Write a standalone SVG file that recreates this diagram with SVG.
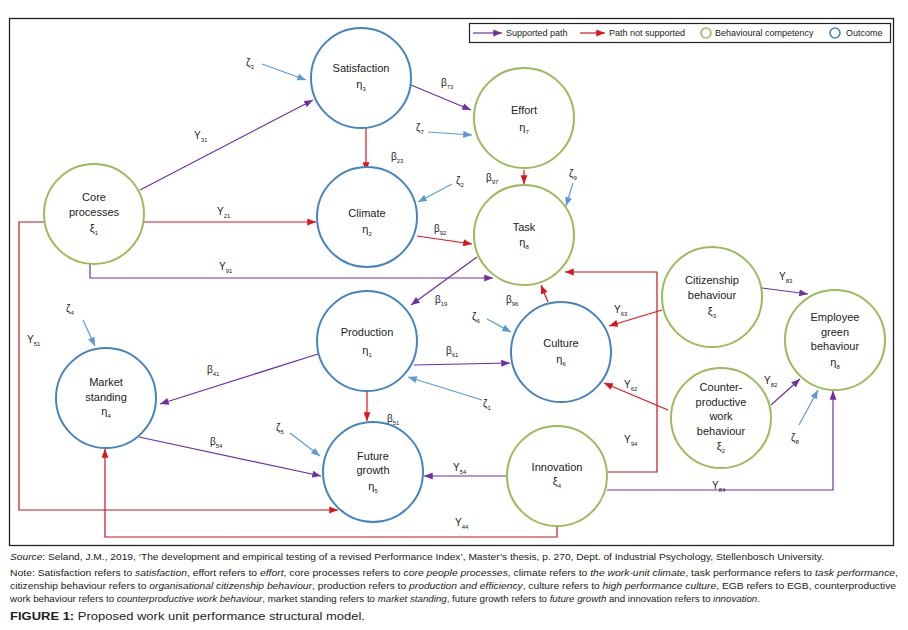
<svg xmlns="http://www.w3.org/2000/svg" width="908" height="630" viewBox="0 0 908 630">
<defs>
<style>
text{font-family:"Liberation Sans",Arial,sans-serif;fill:#222}
.nt{font-size:11px;text-anchor:middle}
.lb{font-size:10px}
.s{font-size:6px}
.cap{font-size:9px}
.nb{fill:#fff;stroke:#4584c0;stroke-width:2}
.ng{fill:#fff;stroke:#9bbb59;stroke-width:2}
.p{fill:none;stroke:#7030a0;stroke-width:1.2;marker-end:url(#ap)}
.r{fill:none;stroke:#e0141c;stroke-width:1.2;marker-end:url(#ar)}
.rd{fill:none;stroke:#c4161e;stroke-width:1.2;marker-end:url(#ar)}
.z{fill:none;stroke:#5b9bd5;stroke-width:1.2;marker-end:url(#az)}
</style>
<marker id="ap" viewBox="0 0 10 8" refX="10" refY="4" markerWidth="9" markerHeight="7" markerUnits="userSpaceOnUse" orient="auto"><path d="M0,0 L10,4 L0,8 z" fill="#7030a0"/></marker>
<marker id="ar" viewBox="0 0 10 8" refX="10" refY="4" markerWidth="9" markerHeight="7" markerUnits="userSpaceOnUse" orient="auto"><path d="M0,0 L10,4 L0,8 z" fill="#e0141c"/></marker>
<marker id="az" viewBox="0 0 10 8" refX="10" refY="4" markerWidth="9" markerHeight="7" markerUnits="userSpaceOnUse" orient="auto"><path d="M0,0 L10,4 L0,8 z" fill="#5b9bd5"/></marker>
</defs>
<rect x="0" y="0" width="908" height="630" fill="#fff"/>
<rect x="9.5" y="18.5" width="884" height="527" fill="none" stroke="#222" stroke-width="1.3"/>

<g id="legend">
<rect x="469.5" y="23.5" width="421" height="19" fill="#fff" stroke="#222" stroke-width="1.2"/>
<path d="M473,33 L502,33" class="p"/>
<text x="506" y="36" class="cap">Supported path</text>
<path d="M580,33 L605,33" class="r"/>
<text x="609" y="36" class="cap">Path not supported</text>
<circle cx="706" cy="33" r="5" fill="#fff" stroke="#9bbb59" stroke-width="1.6"/>
<text x="715" y="36" class="cap">Behavioural competency</text>
<circle cx="835" cy="33" r="5" fill="#fff" stroke="#4584c0" stroke-width="1.6"/>
<text x="846" y="36" class="cap">Outcome</text>
</g>

<g id="connectors">
<path d="M262,64 L306,80" class="z"/>
<path d="M140,190 L313,100" class="p"/>
<path d="M411,85 L471,110" class="p"/>
<path d="M428,132 L472,135" class="z"/>
<path d="M366,128 L366,171" class="r"/>
<path d="M452,184 L418,202" class="z"/>
<path d="M524,170 L524,184" class="r"/>
<path d="M573,183 L566,206" class="z"/>
<path d="M144,222 L316,222" class="r"/>
<path d="M417,236 L472,244" class="r"/>
<path d="M90,264 L90,278 L493,278" class="p"/>
<path d="M477,257 L411,305" class="p"/>
<path d="M548,302 L541,285" class="r"/>
<path d="M487,319 L511,332" class="z"/>
<path d="M608,472 L657,472 L657,272 L565,272" class="rd"/>
<path d="M662,310 L609,326" class="r"/>
<path d="M762,288 L808,294" class="p"/>
<path d="M668,410 L604,383" class="r"/>
<path d="M771,405 L800,379" class="p"/>
<path d="M799,425 L818,390" class="z"/>
<path d="M607,490 L833,490 L833,391" class="p"/>
<path d="M414,365 L510,363" class="p"/>
<path d="M482,400 L408,377" class="z"/>
<path d="M318,354 L160,404" class="p"/>
<path d="M367,391 L367,421" class="r"/>
<path d="M290,433 L320,456" class="z"/>
<path d="M139,437 L321,476" class="p"/>
<path d="M83,320 L95,346" class="z"/>
<path d="M44,222 L19,222 L19,510 L338,510" class="rd"/>
<path d="M507,476 L424,476" class="p"/>
<path d="M557,526 L557,537 L105,537 L105,449" class="rd"/>
</g>

<g id="edge-labels">
<text x="246" y="66" class="lb">ζ<tspan class="s" dy="3">3</tspan></text>
<text x="194" y="139" class="lb">Y<tspan class="s" dy="3">31</tspan></text>
<text x="441" y="86" class="lb">β<tspan class="s" dy="3">73</tspan></text>
<text x="416" y="131" class="lb">ζ<tspan class="s" dy="3">7</tspan></text>
<text x="391" y="160" class="lb">β<tspan class="s" dy="3">23</tspan></text>
<text x="456" y="184" class="lb">ζ<tspan class="s" dy="3">2</tspan></text>
<text x="486" y="181" class="lb">β<tspan class="s" dy="3">97</tspan></text>
<text x="569" y="177" class="lb">ζ<tspan class="s" dy="3">9</tspan></text>
<text x="217" y="215" class="lb">Y<tspan class="s" dy="3">21</tspan></text>
<text x="434" y="232" class="lb">β<tspan class="s" dy="3">92</tspan></text>
<text x="219" y="270" class="lb">Y<tspan class="s" dy="3">91</tspan></text>
<text x="435" y="303" class="lb">β<tspan class="s" dy="3">19</tspan></text>
<text x="506" y="303" class="lb">β<tspan class="s" dy="3">96</tspan></text>
<text x="472" y="320" class="lb">ζ<tspan class="s" dy="3">6</tspan></text>
<text x="614" y="313" class="lb">Y<tspan class="s" dy="3">63</tspan></text>
<text x="779" y="280" class="lb">Y<tspan class="s" dy="3">83</tspan></text>
<text x="624" y="388" class="lb">Y<tspan class="s" dy="3">62</tspan></text>
<text x="764" y="384" class="lb">Y<tspan class="s" dy="3">82</tspan></text>
<text x="791" y="441" class="lb">ζ<tspan class="s" dy="3">8</tspan></text>
<text x="624" y="443" class="lb">Y<tspan class="s" dy="3">94</tspan></text>
<text x="712" y="489" class="lb">Y<tspan class="s" dy="3">84</tspan></text>
<text x="446" y="354" class="lb">β<tspan class="s" dy="3">61</tspan></text>
<text x="483" y="407" class="lb">ζ<tspan class="s" dy="3">1</tspan></text>
<text x="207" y="373" class="lb">β<tspan class="s" dy="3">41</tspan></text>
<text x="387" y="422" class="lb">β<tspan class="s" dy="3">51</tspan></text>
<text x="276" y="431" class="lb">ζ<tspan class="s" dy="3">5</tspan></text>
<text x="210" y="445" class="lb">β<tspan class="s" dy="3">54</tspan></text>
<text x="66" y="312" class="lb">ζ<tspan class="s" dy="3">4</tspan></text>
<text x="27" y="343" class="lb">Y<tspan class="s" dy="3">51</tspan></text>
<text x="453" y="471" class="lb">Y<tspan class="s" dy="3">54</tspan></text>
<text x="455" y="526" class="lb">Y<tspan class="s" dy="3">44</tspan></text>
</g>

<g id="core-processes">
<circle cx="94" cy="214" r="50" class="ng"/>
<text x="94" y="201" class="nt">Core</text>
<text x="94" y="216" class="nt">processes</text>
<text x="94" y="232" class="nt">ξ<tspan class="s" dy="3">1</tspan></text>
</g>
<g id="satisfaction">
<circle cx="361" cy="78" r="50" class="nb"/>
<text x="361" y="72" class="nt">Satisfaction</text>
<text x="361" y="88" class="nt">η<tspan class="s" dy="3">3</tspan></text>
</g>
<g id="effort">
<circle cx="524" cy="118" r="50" class="ng"/>
<text x="524" y="114" class="nt">Effort</text>
<text x="524" y="131" class="nt">η<tspan class="s" dy="3">7</tspan></text>
</g>
<g id="climate">
<circle cx="367" cy="217" r="50" class="nb"/>
<text x="367" y="217" class="nt">Climate</text>
<text x="367" y="233" class="nt">η<tspan class="s" dy="3">2</tspan></text>
</g>
<g id="task">
<circle cx="524" cy="235" r="50" class="ng"/>
<text x="524" y="231" class="nt">Task</text>
<text x="524" y="246" class="nt">η<tspan class="s" dy="3">8</tspan></text>
</g>
<g id="production">
<circle cx="367" cy="341" r="50" class="nb"/>
<text x="367" y="336" class="nt">Production</text>
<text x="367" y="354" class="nt">η<tspan class="s" dy="3">1</tspan></text>
</g>
<g id="culture">
<circle cx="561" cy="352" r="50" class="nb"/>
<text x="561" y="347" class="nt">Culture</text>
<text x="561" y="363" class="nt">η<tspan class="s" dy="3">6</tspan></text>
</g>
<g id="future-growth">
<circle cx="373" cy="472" r="50" class="nb"/>
<text x="373" y="460" class="nt">Future</text>
<text x="373" y="474" class="nt">growth</text>
<text x="373" y="490" class="nt">η<tspan class="s" dy="3">5</tspan></text>
</g>
<g id="innovation">
<circle cx="557" cy="476" r="50" class="ng"/>
<text x="557" y="471" class="nt">Innovation</text>
<text x="557" y="485" class="nt">ξ<tspan class="s" dy="3">4</tspan></text>
</g>
<g id="market-standing">
<circle cx="106" cy="398" r="50" class="nb"/>
<text x="106" y="386" class="nt">Market</text>
<text x="106" y="401" class="nt">standing</text>
<text x="106" y="415" class="nt">η<tspan class="s" dy="3">4</tspan></text>
</g>
<g id="citizenship-behaviour">
<circle cx="712" cy="297" r="50" class="ng"/>
<text x="712" y="284" class="nt">Citizenship</text>
<text x="712" y="299" class="nt">behaviour</text>
<text x="712" y="315" class="nt">ξ<tspan class="s" dy="3">3</tspan></text>
</g>
<g id="employee-green-behaviour">
<circle cx="835" cy="340" r="50" class="ng"/>
<text x="835" y="321" class="nt">Employee</text>
<text x="835" y="336" class="nt">green</text>
<text x="835" y="350" class="nt">behaviour</text>
<text x="835" y="366" class="nt">η<tspan class="s" dy="3">8</tspan></text>
</g>
<g id="counterproductive-work-behaviour">
<circle cx="721" cy="418" r="50" class="ng"/>
<text x="721" y="391" class="nt">Counter-</text>
<text x="721" y="406" class="nt">productive</text>
<text x="721" y="420" class="nt">work</text>
<text x="721" y="435" class="nt">behaviour</text>
<text x="721" y="450" class="nt">ξ<tspan class="s" dy="3">2</tspan></text>
</g>

<g id="caption">
<text x="10" y="560" class="cap" textLength="814" lengthAdjust="spacingAndGlyphs"><tspan font-style="italic">Source</tspan>: Seland, J.M., 2019, ‘The development and empirical testing of a revised Performance Index’, Master’s thesis, p. 270, Dept. of Industrial Psychology, Stellenbosch University.</text>
<text x="10" y="576" class="cap" textLength="888" lengthAdjust="spacingAndGlyphs">Note: Satisfaction refers to <tspan font-style="italic">satisfaction</tspan>, effort refers to <tspan font-style="italic">effort</tspan>, core processes refers to <tspan font-style="italic">core people processes</tspan>, climate refers to <tspan font-style="italic">the work-unit climate</tspan>, task performance refers to <tspan font-style="italic">task performance</tspan>,</text>
<text x="10" y="589" class="cap" textLength="886" lengthAdjust="spacingAndGlyphs">citizenship behaviour refers to <tspan font-style="italic">organisational citizenship behaviour</tspan>, production refers to <tspan font-style="italic">production and efficiency</tspan>, culture refers to <tspan font-style="italic">high performance culture</tspan>, EGB refers to EGB, counterproductive</text>
<text x="10" y="602" class="cap" textLength="750" lengthAdjust="spacingAndGlyphs">work behaviour refers to <tspan font-style="italic">counterproductive work behaviour</tspan>, market standing refers to <tspan font-style="italic">market standing</tspan>, future growth refers to <tspan font-style="italic">future growth</tspan> and innovation refers to <tspan font-style="italic">innovation</tspan>.</text>
<text x="10" y="620" font-size="10.5" textLength="355" lengthAdjust="spacingAndGlyphs"><tspan font-weight="bold">FIGURE 1:</tspan> Proposed work unit performance structural model.</text>
</g>
</svg>
